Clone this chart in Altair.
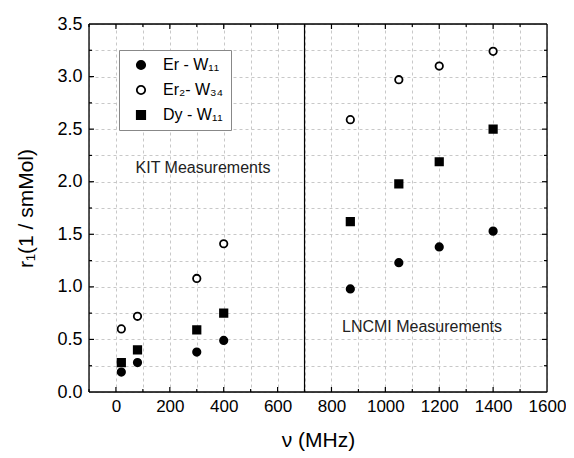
import altair as alt
import pandas as pd

freq = [20, 80, 300, 400, 870, 1050, 1200, 1400]
er_w11 = [0.19, 0.28, 0.38, 0.49, 0.98, 1.23, 1.38, 1.53]
er2_w34 = [0.60, 0.72, 1.08, 1.41, 2.59, 2.97, 3.10, 3.24]
dy_w11 = [0.28, 0.40, 0.59, 0.75, 1.62, 1.98, 2.19, 2.50]
series_names = ["Er - W₁₁", "Er₂- W₃₄", "Dy - W₁₁"]

x_major = [0, 200, 400, 600, 800, 1000, 1200, 1400]
x_minor = [-100, 100, 300, 500, 700, 900, 1100, 1300, 1500]
y_major = [0.5, 1.0, 1.5, 2.0, 2.5, 3.0]
y_minor = [0.25, 0.75, 1.25, 1.75, 2.25, 2.75, 3.25]
x_grid = list(range(-100, 1601, 100))
y_grid = [i * 0.25 for i in range(15)]

notes = ["KIT Measurements", "LNCMI Measurements"]
note_x = [323, 1136]
note_y = [2.13, 0.62]
divider_x = [700]

FONT = "Liberation Sans"
W, H = 458, 368

rows = []
for name, vals in zip(series_names, [er_w11, er2_w34, dy_w11]):
    for f, v in zip(freq, vals):
        rows.append({"f": f, "r": v, "series": name})
df = pd.DataFrame(rows)

xscale = alt.Scale(domain=[-100, 1600], nice=False, zero=False)
yscale = alt.Scale(domain=[0, 3.5], nice=False, zero=False)

xaxis = alt.Axis(
    values=x_grid, grid=True, gridColor="#c8c8c8", gridDash=[3, 3], gridWidth=1,
    ticks=False, tickSize=0, domain=False, labelOverlap=False, labelFlush=False,
    labelExpr="datum.value % 200 == 0 && datum.value >= 0 ? format(datum.value, 'd') : ''",
    labelFont=FONT, labelFontSize=17, labelColor="black", labelPadding=6,
    title="ν (MHz)", titleFont=FONT, titleFontSize=21, titleFontWeight="normal",
    titleColor="black", titlePadding=15,
)
yaxis = alt.Axis(
    values=y_grid, grid=True, gridColor="#c8c8c8", gridDash=[3, 3], gridWidth=1,
    ticks=False, tickSize=0, domain=False, labelOverlap=False, labelFlush=False,
    labelExpr="(datum.value * 2) % 1 == 0 ? format(datum.value, '.1f') : ''",
    labelFont=FONT, labelFontSize=18, labelColor="black", labelPadding=7,
    title="r₁(1 / smMol)", titleFont=FONT, titleFontSize=21, titleFontWeight="normal",
    titleColor="black", titlePadding=20,
)

leg = alt.Legend(
    title=None, orient="none", legendX=30, legendY=26,
    strokeColor="#888888", padding=7, rowPadding=9,
    symbolOffset=7, labelOffset=14, symbolSize=70,
    symbolStrokeWidth=1.8,
    labelFont=FONT, labelFontSize=16, labelColor="black",
    fillColor="white")

points = alt.Chart(df).mark_point(filled=True, strokeWidth=1.8, size=55, opacity=1).encode(
    x=alt.X("f:Q", scale=xscale, axis=xaxis),
    y=alt.Y("r:Q", scale=yscale, axis=yaxis),
    shape=alt.Shape("series:N", scale=alt.Scale(domain=series_names, range=["circle", "circle", "square"]), legend=leg),
    fill=alt.Fill("series:N", scale=alt.Scale(domain=series_names, range=["black", "white", "black"]), legend=leg),
    stroke=alt.Stroke("series:N", scale=alt.Scale(domain=series_names, range=["black", "black", "black"]), legend=leg),
)

divider = alt.Chart(pd.DataFrame({"x": divider_x})).mark_rule(color="black", strokeWidth=1.2).encode(
    x=alt.X("x:Q", scale=xscale, axis=xaxis)
)

frame_df = pd.DataFrame({"k": [0]})
frame = [
    alt.Chart(frame_df).mark_rule(color="black", strokeWidth=1.3).encode(x=alt.value(0), y=alt.value(0), y2=alt.value(H)),
    alt.Chart(frame_df).mark_rule(color="black", strokeWidth=1.3).encode(x=alt.value(W), y=alt.value(0), y2=alt.value(H)),
    alt.Chart(frame_df).mark_rule(color="black", strokeWidth=1.3).encode(y=alt.value(0), x=alt.value(0), x2=alt.value(W)),
    alt.Chart(frame_df).mark_rule(color="black", strokeWidth=1.3).encode(y=alt.value(H), x=alt.value(0), x2=alt.value(W)),
]

texts = alt.Chart(pd.DataFrame({"t": notes, "x": note_x, "y": note_y})).mark_text(
    font=FONT, fontSize=16, color="#222222"
).encode(x=alt.X("x:Q", scale=xscale, axis=xaxis), y=alt.Y("y:Q", scale=yscale, axis=yaxis), text="t:N")

def xticks(vals, y0, y1):
    return alt.Chart(pd.DataFrame({"v": vals})).mark_rule(color="black", strokeWidth=1.2).encode(
        x=alt.X("v:Q", scale=xscale, axis=xaxis), y=alt.value(y0), y2=alt.value(y1))

def yticks(vals, x0, x1):
    return alt.Chart(pd.DataFrame({"v": vals})).mark_rule(color="black", strokeWidth=1.2).encode(
        y=alt.Y("v:Q", scale=yscale, axis=yaxis), x=alt.value(x0), x2=alt.value(x1))

tick_layers = [
    xticks(x_major, H, H - 5), xticks(x_minor, H, H - 3),
    xticks(x_major, 0, 5), xticks(x_minor, 0, 3),
    yticks(y_major, 0, 5), yticks(y_minor, 0, 3),
    yticks(y_major, W, W - 5), yticks(y_minor, W, W - 3),
]

chart = alt.layer(divider, texts, *tick_layers, *frame, points).resolve_scale(
    x="shared", y="shared"
).properties(
    width=W, height=H,
    autosize=alt.AutoSizeParams(type="none"),
    padding={"left": 81, "top": 16, "right": 19, "bottom": 62},
).configure_view(stroke=None).configure_axis(labelOverlap=False, labelFlush=False).configure(background="white")

chart.save("out.html", embed_options={"renderer": "svg", "actions": False})
